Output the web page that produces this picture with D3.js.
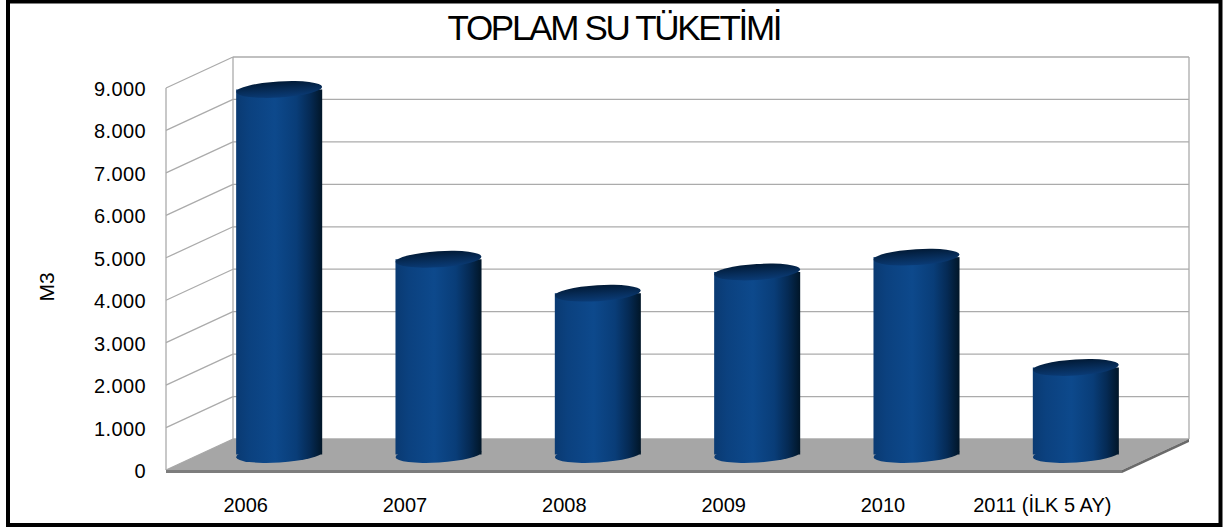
<!DOCTYPE html>
<html>
<head>
<meta charset="utf-8">
<script src="https://cdn.jsdelivr.net/npm/d3@7"></script>
<style>
  body { margin: 0; background: #fff; }
  svg { display: block; font-family: "Liberation Sans", Arial, sans-serif; }
</style>
</head>
<body>
<svg id="chart"></svg>
<script>
// data
const categories = ["2006", "2007", "2008", "2009", "2010", "2011 (İLK 5 AY)"];
const values = [8600, 4600, 3800, 4300, 4650, 2050];
const yTicks = [0, 1000, 2000, 3000, 4000, 5000, 6000, 7000, 8000, 9000];
const title = "TOPLAM SU TÜKETİMİ";
const yTitle = "M3";

const width = 1224, height = 528;
const DX = 67, DY = 31; // depth offset of the 3d box

const svg = d3.select("#chart")
  .attr("width", width)
  .attr("height", height);

const fmt = d3.formatLocale({decimal: ",", thousands: ".", grouping: [3], currency: ["", ""]}).format(",");

const x = d3.scaleBand()
  .domain(categories)
  .range([166, 1122])
  .paddingInner(0.46)
  .paddingOuter(0.23);

const y = d3.scaleLinear()
  .domain([0, 9000])
  .range([470, 88]);

// gradients
const defs = svg.append("defs");
const body = defs.append("linearGradient").attr("id", "body")
  .attr("x1", 0).attr("x2", 1).attr("y1", 0).attr("y2", 0);
[[0, "#0a3a72"], [0.15, "#0b417f"], [0.45, "#0d498c"], [0.7, "#093d78"], [0.86, "#052a54"], [1, "#011628"]]
  .forEach(([o, c]) => body.append("stop").attr("offset", o).attr("stop-color", c));
const cap = defs.append("linearGradient").attr("id", "cap")
  .attr("x1", 0).attr("x2", 0).attr("y1", 0).attr("y2", 1);
[[0, "#011a36"], [0.55, "#072d5a"], [1, "#0a3b76"]]
  .forEach(([o, c]) => cap.append("stop").attr("offset", o).attr("stop-color", c));

// outer frame
svg.append("rect")
  .attr("x", 8).attr("y", 1.5)
  .attr("width", 1212.5).attr("height", 523.5)
  .attr("fill", "#fff")
  .attr("stroke", "#000")
  .attr("stroke-width", 4);

// title
svg.append("text")
  .attr("x", 615).attr("y", 40)
  .attr("text-anchor", "middle")
  .attr("font-size", 35)
  .attr("textLength", 335)
  .attr("lengthAdjust", "spacing")
  .text(title);

const x0 = x.range()[0], x1 = x.range()[1];
const grid = svg.append("g")
  .attr("stroke", "#ababab")
  .attr("stroke-width", 1.3)
  .attr("fill", "none");

// back wall lines
grid.selectAll("line.back")
  .data(yTicks)
  .join("line")
  .attr("class", "back")
  .attr("x1", x0 + DX).attr("x2", x1 + DX)
  .attr("y1", d => y(d) - DY).attr("y2", d => y(d) - DY);

// side wall lines
grid.selectAll("line.side")
  .data(yTicks)
  .join("line")
  .attr("class", "side")
  .attr("x1", x0).attr("x2", x0 + DX)
  .attr("y1", d => y(d)).attr("y2", d => y(d) - DY);

// wall verticals
grid.append("line")
  .attr("x1", x0 + DX).attr("x2", x0 + DX)
  .attr("y1", y(9000) - DY).attr("y2", y(0) - DY);
grid.append("line")
  .attr("x1", x1 + DX).attr("x2", x1 + DX)
  .attr("y1", y(9000) - DY).attr("y2", y(0) - DY);
grid.append("line")
  .attr("x1", x0).attr("x2", x0)
  .attr("y1", y(9000)).attr("y2", y(0));

// floor
const f = y(0);
svg.append("polygon")
  .attr("points", [[x0, f], [x1, f], [x1 + DX, f - DY], [x0 + DX, f - DY]].join(" "))
  .attr("fill", "#a6a6a6");
svg.append("polygon")
  .attr("points", [[x0, f], [x1, f], [x1, f + 3], [x0, f + 3]].join(" "))
  .attr("fill", "#7d7d7d");
svg.append("polygon")
  .attr("points", [[x1, f], [x1 + DX, f - DY], [x1 + DX, f - DY + 3], [x1, f + 3]].join(" "))
  .attr("fill", "#6a6a6a");

// cylinders
const rx = x.bandwidth() / 2, ry = 8, tilt = -3.5;
const cyl = svg.append("g")
  .selectAll("g")
  .data(categories.map((c, i) => ({c, v: values[i]})))
  .join("g")
  .attr("transform", d => `translate(${x(d.c) + rx + DX / 2},0)`);

cyl.append("ellipse")
  .attr("rx", rx).attr("ry", ry)
  .attr("transform", `translate(0,${y(0) - DY / 2}) rotate(${tilt})`)
  .attr("fill", "url(#body)");
cyl.append("rect")
  .attr("x", -rx).attr("width", 2 * rx)
  .attr("y", d => y(d.v) - DY / 2)
  .attr("height", d => y(0) - y(d.v))
  .attr("fill", "url(#body)");
cyl.append("ellipse")
  .attr("rx", rx).attr("ry", ry)
  .attr("transform", d => `translate(0,${y(d.v) - DY / 2}) rotate(${tilt})`)
  .attr("fill", "url(#cap)");

// y tick labels
svg.append("g")
  .attr("font-size", 20)
  .attr("text-anchor", "end")
  .selectAll("text")
  .data(yTicks)
  .join("text")
  .attr("x", 146)
  .attr("y", d => y(d) + 8)
  .attr("letter-spacing", 0.4)
  .text(d => fmt(d));

// category labels
svg.append("g")
  .attr("font-size", 20)
  .attr("text-anchor", "middle")
  .selectAll("text")
  .data(categories)
  .join("text")
  .attr("x", d => x(d) + rx)
  .attr("y", 512)
  .text(d => d);

// y title
svg.append("text")
  .attr("transform", "translate(54,287) rotate(-90)")
  .attr("text-anchor", "middle")
  .attr("font-size", 21)
  .text(yTitle);
</script>
</body>
</html>
